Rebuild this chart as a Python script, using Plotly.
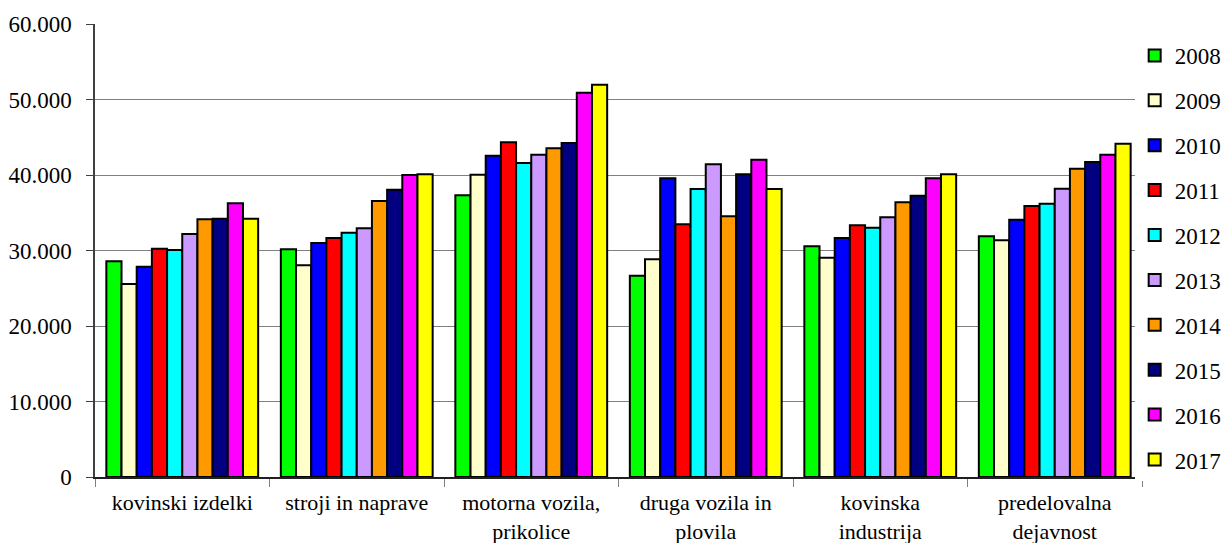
import plotly.graph_objects as go

categories = ["kovinski izdelki", "stroji in naprave", "motorna vozila,<br>prikolice",
              "druga vozila in<br>plovila", "kovinska<br>industrija", "predelovalna<br>dejavnost"]
years = ["2008", "2009", "2010", "2011", "2012", "2013", "2014", "2015", "2016", "2017"]
colors = ["#00ff00", "#ffffcc", "#0000ff", "#ff0000", "#00ffff",
          "#cc99ff", "#ff9900", "#000080", "#ff00ff", "#ffff00"]

# values per year, one number per category
v2008 = [28570, 30150, 37310, 26670, 30550, 31880]
v2009 = [25560, 28040, 40040, 28830, 29050, 31350]
v2010 = [27860, 30990, 42560, 39560, 31660, 34080]
v2011 = [30240, 31660, 44330, 33470, 33330, 35890]
v2012 = [30070, 32360, 41590, 38150, 33020, 36200]
v2013 = [32190, 32940, 42690, 41410, 34390, 38190]
v2014 = [34130, 36560, 43530, 34530, 36380, 40840]
v2015 = [34220, 38060, 44240, 40090, 37260, 41720]
v2016 = [36250, 40000, 50900, 42030, 39560, 42690]
v2017 = [34220, 40090, 51970, 38150, 40090, 44150]
values = [v2008, v2009, v2010, v2011, v2012, v2013, v2014, v2015, v2016, v2017]

font = "Times New Roman, Liberation Serif, DejaVu Serif, serif"

fig = go.Figure()
for year, vals, col in zip(years, values, colors):
    fig.add_trace(go.Bar(
        x=categories, y=vals, name=year, legendgroup=year,
        marker=dict(color=col, line=dict(color="black", width=2))
    ))

# page body has an 8px margin, so margins are shifted by that
fig.update_layout(
    width=1230, height=543,
    margin=dict(l=87, r=96, t=16, b=74, autoexpand=False),
    paper_bgcolor="white", plot_bgcolor="white",
    barmode="group", bargap=0.13, bargroupgap=0,
    separators=",.",
    font=dict(family=font, size=23, color="black"),
    legend=dict(x=0.993, xanchor="left", y=0.978, yanchor="top",
                font=dict(size=23), tracegroupgap=12, itemwidth=30,
                maxheight=530),
)
fig.update_yaxes(
    range=[0, 60000], dtick=10000, tickformat=",d",
    showgrid=True, gridcolor="#808080", gridwidth=1,
    showline=True, linecolor="#404040", linewidth=1.5,
    ticks="outside", ticklen=7, tickcolor="#404040",
    ticklabelstandoff=10,
)
fig.update_xaxes(
    showline=True, linecolor="#202020", linewidth=1.5,
    ticks="outside", ticklen=8, tickcolor="#808080", tickson="boundaries",
    ticklabelstandoff=5, tickfont=dict(size=22),
)

fig.write_html("out.html")
